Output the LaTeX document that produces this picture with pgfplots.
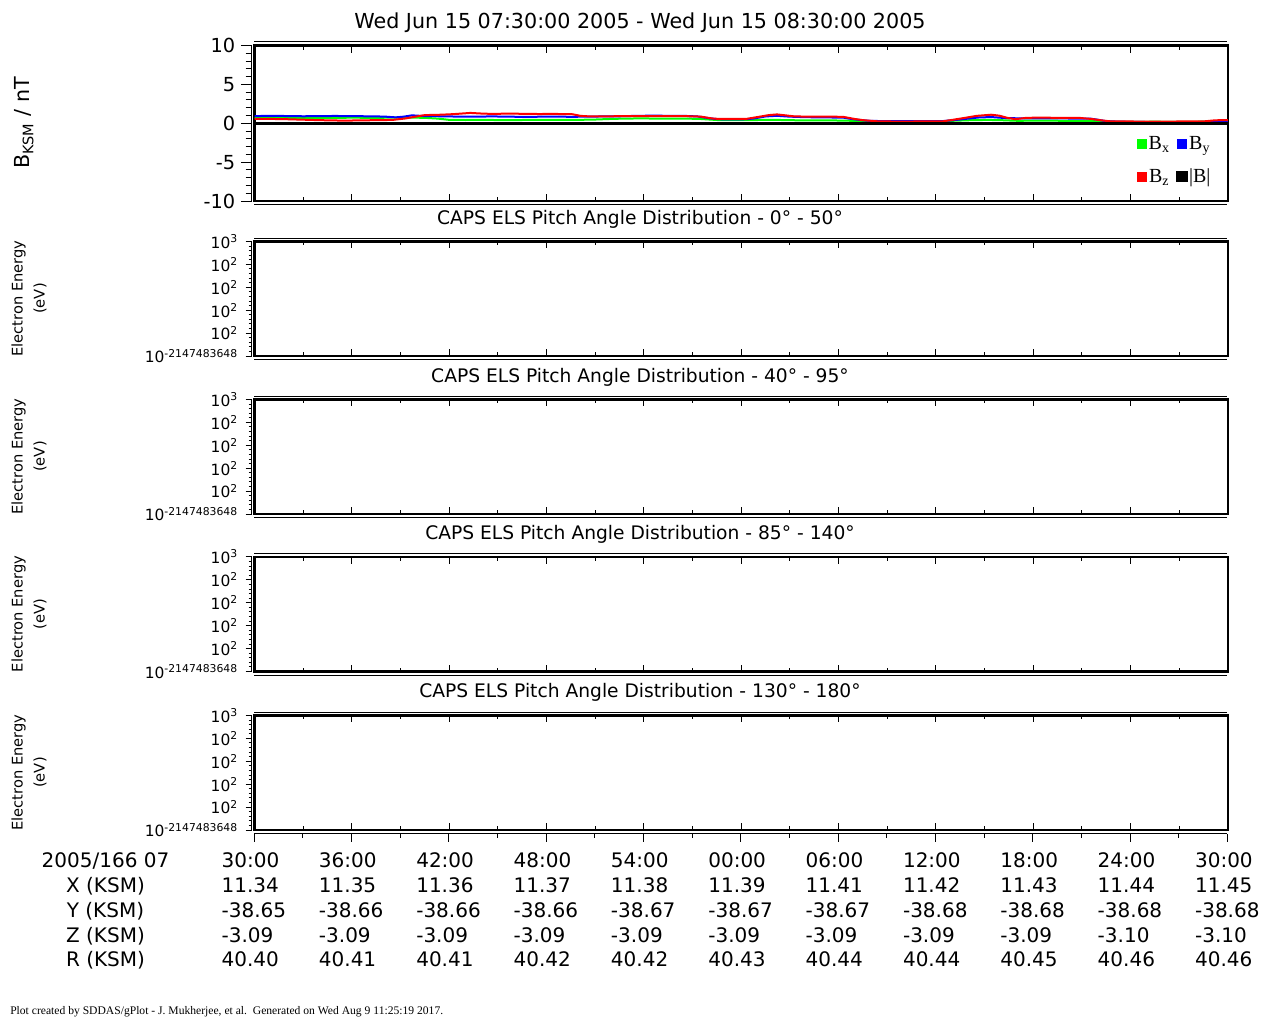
\documentclass[border=0pt]{standalone}
\usepackage{pgfplots}
\pgfplotsset{compat=1.18}
\usepackage{pgfplotstable}
\usepackage{fontspec}
\setmainfont{DejaVu Sans}
\newfontfamily\seriffont{Liberation Serif}

\pgfplotstableread{
t v
0 0.70
1 0.73
2 0.70
3 0.68
4 0.71
5 0.69
6 0.72
7 0.70
8 0.71
9.5 0.73
10.5 0.70
11.3 0.60
12 0.44
13 0.42
14 0.45
15 0.41
16 0.40
17 0.44
18 0.43
19 0.45
20 0.44
21 0.48
22 0.56
23 0.61
24 0.62
25 0.60
26 0.61
27 0.58
27.5 0.55
28.5 0.42
29.5 0.40
30.5 0.41
31.5 0.43
32.5 0.42
33.5 0.38
35 0.37
36.3 0.35
37 0.30
38 0.27
39 0.28
40 0.26
41 0.28
42.4 0.27
43.2 0.33
44.2 0.40
45.2 0.43
46 0.40
47 0.32
48 0.33
49 0.34
50 0.31
51 0.30
52 0.25
52.5 0.20
54 0.18
55.5 0.20
57 0.18
58.5 0.20
60 0.22
}\bxdata

\pgfplotstableread{
t v
0 0.92
1 0.96
2 0.93
3 0.90
4 0.92
5 0.94
6 0.91
7 0.90
8 0.86
8.7 0.76
9.2 0.85
9.7 1.02
10.5 0.92
11.5 0.90
12.5 0.86
13.5 0.84
14.5 0.88
15.5 0.86
16.5 0.82
17.5 0.84
18.5 0.86
19.5 0.83
20.5 0.85
21.5 0.88
22.5 0.90
23.5 0.95
24.5 0.98
25.5 0.96
26.5 0.95
27.3 0.88
28 0.65
28.6 0.52
29.5 0.50
30.3 0.52
30.8 0.62
31.5 0.88
32.2 0.96
33 0.85
34 0.78
35 0.76
36.3 0.72
36.8 0.55
37.5 0.38
38 0.30
39 0.28
40.5 0.27
42.4 0.28
43 0.38
43.9 0.58
44.6 0.74
45.4 0.80
46.2 0.68
47 0.64
48 0.63
49.5 0.62
50.5 0.61
51.5 0.60
52 0.45
52.5 0.26
53.5 0.20
55 0.16
56.5 0.15
58 0.16
60 0.18
}\bydata

\pgfplotstableread{
t v
0 0.55
1 0.56
2 0.52
3 0.46
4 0.40
5 0.36
5.5 0.34
6.5 0.37
7.5 0.40
8.5 0.43
9.3 0.62
10 0.88
10.5 1.05
11.5 1.10
12.3 1.18
13.3 1.33
14 1.25
14.7 1.20
15.5 1.24
16.5 1.22
17.5 1.19
18.5 1.20
19.6 1.16
20.1 0.95
20.5 0.90
21.5 0.89
22.5 0.91
23.5 0.92
24.5 0.93
25.5 0.91
26.5 0.92
27.5 0.86
28.2 0.62
28.6 0.56
29.5 0.55
30.3 0.56
31 0.80
31.7 1.05
32.2 1.14
32.8 1.00
33.3 0.88
34.5 0.85
35.5 0.86
36.3 0.82
37 0.55
37.5 0.40
38.4 0.25
39.5 0.22
41 0.23
42.4 0.24
42.9 0.40
43.8 0.70
44.5 0.95
45.4 1.10
45.9 0.98
46.4 0.70
46.9 0.52
47.5 0.68
48.2 0.73
49.5 0.70
50.9 0.68
51.6 0.55
52.1 0.40
52.7 0.26
54 0.23
55.5 0.21
57 0.23
58.5 0.24
59.2 0.38
60 0.42
}\bzdata

\pgfplotstableread{
t v
0 0
60 0
}\btdata

\definecolor{bxcol}{RGB}{0,255,0}
\definecolor{bycol}{RGB}{0,0,255}
\definecolor{bzcol}{RGB}{255,0,0}

\pgfplotsset{
  boxpanel/.style={
    scale only axis, width=730.1pt,
    xmin=0, xmax=60, xtick={0,6,...,60}, minor x tick num=1,
    xticklabels={}, ytick=\empty,
    tick align=inside,
    major tick length=5.25pt, minor tick length=3pt,
    axis line style={line width=2pt},
    every tick/.style={black, line width=0.75pt},
  },
  yside/.style={
    scale only axis, width=1pt, xmin=0, xmax=1,
    hide x axis, axis y line*=left, tick align=outside,
    y axis line style={line width=0.75pt},
    every tick/.style={black, line width=0.75pt},
  },
  specside/.style={
    yside, height=85.9pt, ymin=0, ymax=5,
    ytick={0,1,2,3,4,5}, minor y tick num=4,
    major tick length=4.5pt, minor tick length=2.25pt,
    yticklabels={10\textsuperscript{-2147483648},10\textsuperscript{2},10\textsuperscript{2},10\textsuperscript{2},10\textsuperscript{2},10\textsuperscript{3}},
    yticklabel style={font=\fontsize{11.6}{12}\selectfont, inner sep=0pt, xshift=-5.5pt},
  },
  specbox/.style={
    boxpanel, height=85.9pt, ymin=0, ymax=5,
  },
}

\begin{document}
\begin{tikzpicture}
\path[use as bounding box] (0pt,0pt) rectangle (960pt,-768pt);

% ---------- Title ----------
\node[font=\fontsize{15.5}{18}\selectfont] at (480pt,-17.25pt) {Wed Jun 15 07:30:00 2005 - Wed Jun 15 08:30:00 2005};

% ---------- Panel 1: magnetic field ----------
\begin{axis}[boxpanel, at={(190.875pt,-150.75pt)}, anchor=south west, height=116.6pt,
  ymin=-10, ymax=10,
  legend columns=2,
  legend style={draw=none, fill=none, at={(1,0)}, anchor=south east, xshift=-9pt, yshift=9pt,
    font=\seriffont\fontsize{15}{17}\selectfont, row sep=11pt,
    nodes={inner sep=1pt},
    /tikz/every even column/.append style={column sep=4pt}},
  legend image code/.code={\fill[#1] (0pt,-3pt) rectangle (6pt,3pt);},
]
\addplot[color=bxcol, line width=1.5pt] table[x=t,y=v] {\bxdata};
\addlegendentry{B\textsubscript{x}}
\addplot[color=bycol, line width=1.5pt] table[x=t,y=v] {\bydata};
\addlegendentry{B\textsubscript{y}}
\addplot[color=bzcol, line width=1.5pt] table[x=t,y=v] {\bzdata};
\addlegendentry{B\textsubscript{z}}
\addplot[color=black, line width=2.5pt] table[x=t,y=v] {\btdata};
\addlegendentry{|B|}
\end{axis}
\begin{axis}[yside, at={(188.625pt,-150.75pt)}, anchor=south west, height=116.6pt,
  ymin=-10, ymax=10, ytick={-10,-5,0,5,10}, minor y tick num=4,
  yticklabels={-10,-5,0,5,10},
  major tick length=8pt, minor tick length=4.5pt,
  yticklabel style={font=\fontsize{14.5}{16}\selectfont, inner sep=0pt, xshift=-4pt}]
\end{axis}
\draw[line width=0.75pt] (190.5pt,-31.35pt) -- (920.25pt,-31.35pt);
\draw[line width=0.75pt] (190.5pt,-153.15pt) -- (920.25pt,-153.15pt);
\node[rotate=90, font=\fontsize{15.5}{18}\selectfont] at (18pt,-92.25pt) {B\textsubscript{KSM} / nT};

% ---------- Panels 2-5: spectrograms ----------
\foreach \bot/\botpt/\ttl/\lab in {356/-267pt/{0° - 50°}/219.5, 514/-385.5pt/{40° - 95°}/377, 671.5/-503.625pt/{85° - 140°}/534.5, 830/-622.5pt/{130° - 180°}/692.5}{
  \begin{axis}[specbox, at={(190.875pt,\botpt)}, anchor=south west]
  \end{axis}
  \begin{axis}[specside, at={(188.625pt,\botpt)}, anchor=south west]
  \end{axis}
  \draw[line width=0.75pt] (190.5pt,{-(\bot-118)*0.75pt}) -- (920.25pt,{-(\bot-118)*0.75pt});
  \draw[line width=0.75pt] (190.5pt,{-(\bot+3.5)*0.75pt}) -- (920.25pt,{-(\bot+3.5)*0.75pt});
  \node[font=\fontsize{14}{16}\selectfont] at (480pt,{-\lab*0.75pt}) {CAPS ELS Pitch Angle Distribution - \ttl};
  \node[rotate=90, align=center, font=\fontsize{11}{16.5}\selectfont] at (21.75pt,{-(\bot-57.5)*0.75pt}) {Electron Energy\\(eV)};
}

% ---------- Bottom time axis with ephemeris ----------
\begin{axis}[at={(190.5pt,-625.125pt)}, anchor=south west, scale only axis, width=730.1pt, height=1pt,
  xmin=0, xmax=60, ymin=0, ymax=1, hide y axis, axis x line*=bottom,
  tick align=outside, xtick={0,6,...,60}, minor x tick num=1,
  major tick length=6pt, minor tick length=3pt,
  x axis line style={line width=0.75pt},
  every tick/.style={black, line width=0.75pt},
  xticklabels={{30:00\\11.34\\-38.65\\-3.09\\40.40},{36:00\\11.35\\-38.66\\-3.09\\40.41},{42:00\\11.36\\-38.66\\-3.09\\40.41},{48:00\\11.37\\-38.66\\-3.09\\40.42},{54:00\\11.38\\-38.67\\-3.09\\40.42},{00:00\\11.39\\-38.67\\-3.09\\40.43},{06:00\\11.41\\-38.67\\-3.09\\40.44},{12:00\\11.42\\-38.68\\-3.09\\40.44},{18:00\\11.43\\-38.68\\-3.09\\40.45},{24:00\\11.44\\-38.68\\-3.10\\40.46},{30:00\\11.45\\-38.68\\-3.10\\40.46}},
  xticklabel style={align=left, anchor=north west, xshift=-24.5pt, yshift=-8.25pt, inner sep=0pt,
    font=\fontsize{15}{18.6}\selectfont},
]
\end{axis}
\node[align=center, anchor=north, inner sep=0pt, font=\fontsize{15}{18.6}\selectfont] at (79.125pt,-639.4pt)
  {2005/166 07\\X (KSM)\\Y (KSM)\\Z (KSM)\\R (KSM)};

% ---------- Footer ----------
\node[anchor=west, inner sep=0pt, font=\seriffont\fontsize{8.7}{10}\selectfont] at (7.5pt,-759pt)
  {Plot created by SDDAS/gPlot - J. Mukherjee, et al.\ \ Generated on Wed Aug 9 11:25:19 2017.};
\end{tikzpicture}
\end{document}
